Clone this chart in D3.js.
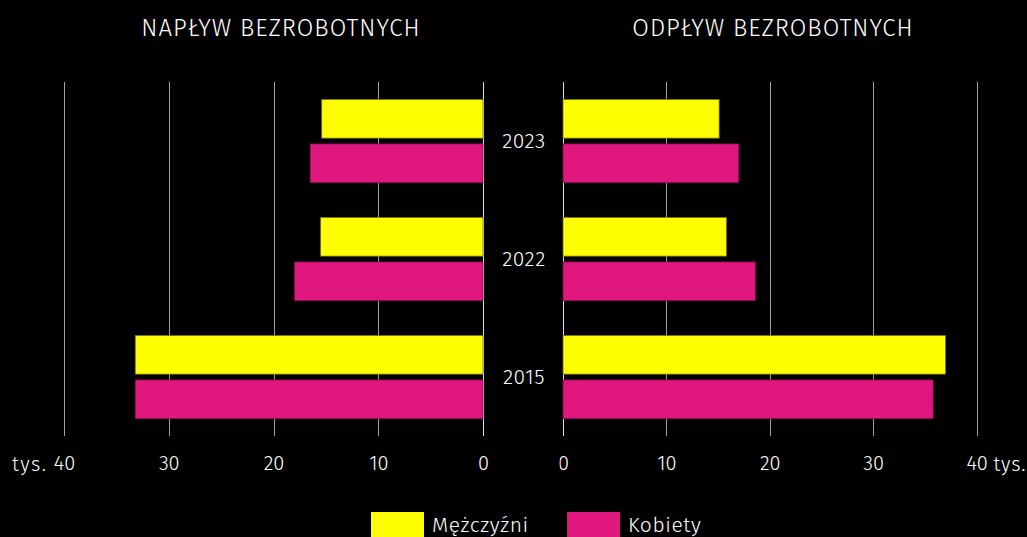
<!DOCTYPE html>
<html>
<head>
<meta charset="utf-8">
<script src="https://cdn.jsdelivr.net/npm/d3@7"></script>
<style>
  html, body { margin: 0; padding: 0; background: #000; }
  svg { display: block; font-family: "Fira Sans", "Open Sans", sans-serif; font-weight: 300; }
</style>
</head>
<body>
<div id="chart"></div>
<script>
const years = ["2023", "2022", "2015"];
const series = ["Mężczyźni", "Kobiety"];
const colors = ["#ffff00", "#df177f"];
const inflowMen = [15.4, 15.5, 33.2];
const inflowWomen = [16.5, 18.0, 33.2];
const outflowMen = [15.1, 15.8, 37.0];
const outflowWomen = [17.0, 18.6, 35.8];
const ticks = [0, 10, 20, 30, 40];
const titles = ["NAPŁYW BEZROBOTNYCH", "ODPŁYW BEZROBOTNYCH"];

const width = 1027;
const height = 537;
const gridTop = 82, gridBottom = 436;

const svg = d3
  .select("#chart")
  .append("svg")
  .attr("width", width)
  .attr("height", height);

svg.append("rect").attr("width", width).attr("height", height).attr("fill", "#000");

// Scales
const xLeft = d3.scaleLinear().domain([0, 40]).range([483, 64]);
const xRight = d3.scaleLinear().domain([0, 40]).range([563, 976.6]);
const y0 = d3.scaleBand().domain(years).range([gridTop, gridBottom]);
const y1 = d3.scaleBand().domain(series).range([17.4, 100.7]).paddingInner(0.13);
const color = d3.scaleOrdinal().domain(series).range(colors);

// Gridlines
function grid(x) {
  svg
    .append("g")
    .selectAll("line")
    .data(ticks)
    .enter()
    .append("line")
    .attr("x1", (d) => Math.round(x(d)) + 0.5)
    .attr("x2", (d) => Math.round(x(d)) + 0.5)
    .attr("y1", gridTop)
    .attr("y2", gridBottom)
    .attr("stroke", (d) => (d === 0 ? "#e0e0e0" : "#a0a0a0"))
    .attr("stroke-width", 1);
}
grid(xLeft);
grid(xRight);

// Bars
function bars(x, men, women, left) {
  const rows = years.map((y, i) => [
    { year: y, s: series[0], v: men[i] },
    { year: y, s: series[1], v: women[i] },
  ]).flat();
  svg
    .append("g")
    .selectAll("rect")
    .data(rows)
    .enter()
    .append("rect")
    .attr("x", (d) => (left ? x(d.v) : x(0)))
    .attr("y", (d) => y0(d.year) + y1(d.s))
    .attr("width", (d) => Math.abs(x(d.v) - x(0)))
    .attr("height", y1.bandwidth())
    .attr("fill", (d) => color(d.s))
    .attr("stroke", (d) => (d.s === series[0] ? "#6e6e10" : "#7a1048"))
    .attr("stroke-width", 0.8);
}
bars(xLeft, inflowMen, inflowWomen, true);
bars(xRight, outflowMen, outflowWomen, false);

// Year labels
svg
  .append("g")
  .selectAll("text")
  .data(years)
  .enter()
  .append("text")
  .attr("x", 524)
  .attr("y", (d) => y0(d) + y0.bandwidth() / 2)
  .attr("dy", "0.33em")
  .attr("text-anchor", "middle")
  .attr("fill", "#fff")
  .style("font-size", "21px")
  .style("letter-spacing", "0.5px")
  .text((d) => d);

// Axes
svg
  .append("defs")
  .append("clipPath")
  .attr("id", "clip-right")
  .append("rect")
  .attr("x", 559.5)
  .attr("y", 0)
  .attr("width", width - 559.5)
  .attr("height", height);

function axis(x, clip) {
  const g = svg
    .append("g")
    .attr("transform", `translate(0, ${gridBottom})`)
    .call(d3.axisBottom(x).tickValues(ticks).tickSize(0).tickPadding(20));
  g.attr("font-family", null).attr("font-size", null);
  g.select(".domain").remove();
  g.selectAll("text").attr("fill", "#fff").style("font-size", "20px");
  if (clip) g.attr("clip-path", "url(#clip-right)");
  return g;
}
axis(xLeft, false);
axis(xRight, true);

svg
  .append("text")
  .attr("x", 12)
  .attr("y", 471)
  .attr("fill", "#fff")
  .style("font-size", "20px")
  .style("letter-spacing", "1.5px")
  .text("tys.");
svg
  .append("text")
  .attr("x", xRight(40) + 17)
  .attr("y", 471)
  .attr("fill", "#fff")
  .style("font-size", "20px")
  .style("letter-spacing", "0.8px")
  .text("tys.");

// Titles
svg
  .selectAll(".title")
  .data(titles)
  .enter()
  .append("text")
  .attr("class", "title")
  .attr("x", (d, i) => (i === 0 ? 281 : 773))
  .attr("y", 36)
  .attr("text-anchor", "middle")
  .attr("fill", "#fff")
  .style("font-size", "24px")
  .style("letter-spacing", "1px")
  .text((d) => d);

// Legend
const legendX = [371, 567];
const legend = svg
  .append("g")
  .selectAll("g")
  .data(series)
  .enter()
  .append("g")
  .attr("transform", (d, i) => `translate(${legendX[i]}, 512)`);
legend
  .append("rect")
  .attr("width", 53)
  .attr("height", 30)
  .attr("fill", (d) => color(d));
legend
  .append("text")
  .attr("x", 61)
  .attr("y", 20)
  .attr("fill", "#fff")
  .style("font-size", "21px")
  .style("letter-spacing", "0.6px")
  .text((d) => d);
</script>
</body>
</html>
